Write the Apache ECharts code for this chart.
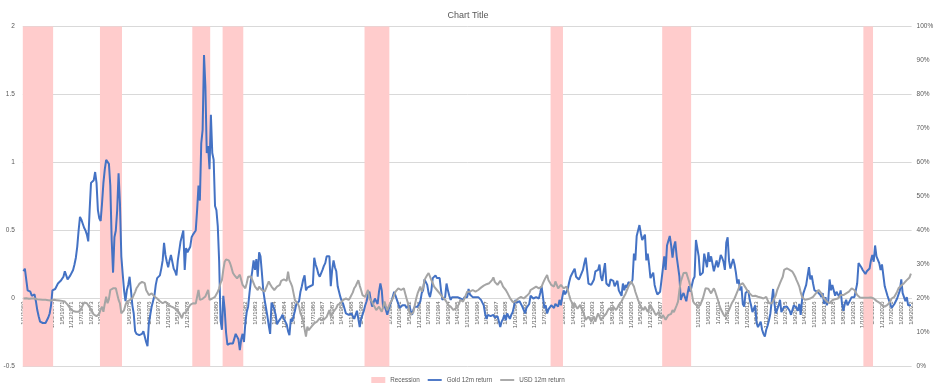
<!DOCTYPE html>
<html>
<head>
<meta charset="utf-8">
<script src="https://cdn.jsdelivr.net/npm/echarts@6/dist/echarts.min.js"></script>
<style>
html,body{margin:0;padding:0;background:#fff;overflow:hidden;}
#chart{width:936px;height:392px;}
</style>
</head>
<body>
<div id="chart"></div>
<script>
// Monthly categories: 1/1/1969 .. 1/9/2022 (d/m/yyyy)
const startYear = 1969;
const monthCount = 645;
const categories = [];
for (let i = 0; i < monthCount; i++) {
  categories.push('1/' + (i % 12 + 1) + '/' + (startYear + Math.floor(i / 12)));
}

// Recession periods (first and last month shaded)
const recessions = [
  ['1/1/1969', '1/10/1970'],
  ['1/9/1973', '1/12/1974'],
  ['1/4/1979', '1/4/1980'],
  ['1/2/1981', '1/4/1982'],
  ['1/9/1989', '1/2/1991'],
  ['1/12/2000', '1/8/2001'],
  ['1/9/2007', '1/5/2009'],
  ['1/11/2019', '1/5/2020']
];

// Gold 12m return (left axis), one row per year
const gold = [
  0.20,0.22,0.23,0.06,0.05,0.05,0.02,0.03,0.03,-0.02,-0.085,-0.13,
  -0.17,-0.18,-0.18,-0.17,-0.18,-0.16,-0.14,-0.11,-0.05,0.06,0.06,0.07,
  0.09,0.11,0.12,0.13,0.14,0.16,0.20,0.17,0.14,0.15,0.17,0.18,
  0.21,0.25,0.30,0.38,0.50,0.60,0.58,0.55,0.52,0.50,0.47,0.42,
  0.65,0.85,0.86,0.87,0.93,0.85,0.65,0.59,0.57,0.70,0.85,0.95,
  1.02,1.02,0.99,0.83,0.43,0.19,0.45,0.50,0.65,0.92,0.70,0.31,
  0.18,0.06,-0.02,0.06,0.10,0.16,0.06,-0.05,-0.11,-0.24,-0.26,-0.27,
  -0.27,-0.26,-0.26,-0.24,-0.28,-0.32,-0.35,-0.18,-0.12,-0.06,-0.02,0.02,
  0.10,0.15,0.16,0.17,0.22,0.28,0.41,0.32,0.27,0.23,0.28,0.32,
  0.27,0.22,0.20,0.17,0.28,0.35,0.42,0.43,0.50,0.21,0.37,0.34,
  0.34,0.38,0.45,0.47,0.48,0.50,0.65,0.83,0.72,1.14,1.24,1.79,
  1.56,1.07,1.12,0.95,1.35,1.07,1.02,0.68,0.65,0.53,0.27,-0.16,
  -0.23,0.02,-0.08,-0.25,-0.34,-0.33,-0.33,-0.32,-0.33,-0.34,-0.26,-0.28,
  -0.30,-0.38,-0.30,-0.26,-0.32,-0.18,-0.10,-0.06,0.04,0.13,0.20,0.28,
  0.21,0.29,0.16,0.34,0.31,0.19,0.06,-0.01,-0.07,-0.13,-0.20,-0.26,
  -0.03,-0.05,-0.08,-0.12,-0.19,-0.17,-0.16,-0.14,-0.12,-0.15,-0.17,-0.19,
  -0.24,-0.27,-0.15,-0.17,-0.18,-0.09,-0.04,-0.03,-0.02,0.05,0.09,0.14,
  0.17,0.06,0.08,0.09,0.09,0.09,0.10,0.30,0.25,0.22,0.18,0.16,
  0.15,0.21,0.24,0.26,0.31,0.31,0.31,0.09,0.21,0.28,0.23,0.20,
  0.09,0.05,0.01,-0.02,-0.04,-0.05,-0.11,-0.11,-0.12,-0.11,-0.11,-0.13,
  -0.15,-0.12,-0.09,-0.15,-0.21,-0.15,-0.12,-0.09,-0.05,-0.02,0.03,0.05,
  -0.01,-0.06,-0.03,0.00,-0.02,-0.04,0.05,0.11,0.06,-0.07,-0.05,-0.04,
  -0.12,-0.08,-0.05,-0.02,-0.01,0.05,0.02,-0.01,-0.04,-0.07,-0.06,-0.05,
  -0.04,-0.05,-0.07,-0.06,-0.05,-0.09,-0.12,-0.08,-0.06,-0.05,-0.06,-0.07,
  -0.02,0.04,0.06,0.14,0.12,0.10,0.04,0.01,0.06,0.15,0.16,0.17,
  0.15,0.15,0.15,0.06,-0.01,0.00,0.01,0.11,0.06,0.02,-0.01,0.01,
  0.00,0.01,0.02,0.01,0.00,0.00,-0.01,-0.01,0.01,0.01,0.01,0.07,
  0.03,0.02,0.01,0.01,0.01,0.01,0.01,0.00,-0.01,-0.03,-0.05,-0.11,
  -0.15,-0.12,-0.12,-0.13,-0.12,-0.12,-0.14,-0.15,-0.13,-0.17,-0.21,-0.17,
  -0.15,-0.12,-0.16,-0.11,-0.13,-0.15,-0.12,-0.10,-0.09,-0.01,-0.03,-0.04,
  -0.02,-0.01,-0.06,-0.05,-0.11,-0.07,-0.06,-0.04,0.02,0.01,0.00,0.01,
  0.01,0.00,0.00,0.04,0.09,0.10,-0.07,-0.05,-0.11,-0.08,-0.07,-0.05,
  -0.06,-0.07,-0.04,-0.05,-0.06,-0.01,-0.05,0.01,0.06,0.03,0.05,0.07,
  0.12,0.16,0.17,0.20,0.22,0.16,0.15,0.14,0.16,0.17,0.21,0.26,
  0.30,0.21,0.11,0.11,0.10,0.12,0.14,0.20,0.21,0.21,0.25,0.16,
  0.13,0.20,0.26,0.11,0.10,0.09,0.14,0.13,0.13,0.09,0.11,0.13,
  0.06,0.04,0.02,0.11,0.06,0.10,0.08,0.12,0.11,0.11,0.14,0.33,
  0.28,0.46,0.46,0.54,0.48,0.43,0.45,0.47,0.28,0.33,0.25,0.15,
  0.17,0.19,0.10,0.06,0.03,0.04,0.05,0.06,0.22,0.31,0.21,0.39,
  0.39,0.46,0.39,0.30,0.38,0.42,0.31,0.31,0.16,-0.01,0.02,0.04,
  0.03,-0.02,0.04,0.09,0.05,0.04,0.14,0.16,0.43,0.44,0.31,0.17,
  0.17,0.19,0.33,0.28,0.23,0.34,0.27,0.31,0.30,0.20,0.24,0.28,
  0.23,0.27,0.32,0.30,0.27,0.21,0.41,0.45,0.28,0.22,0.23,0.29,
  0.25,0.19,0.11,0.14,0.06,0.09,-0.04,-0.06,0.04,0.05,0.06,-0.01,
  -0.05,-0.10,-0.11,-0.05,-0.18,-0.21,-0.19,-0.17,-0.23,-0.26,-0.28,-0.23,
  -0.20,-0.16,-0.11,-0.12,0.07,-0.04,-0.11,-0.08,-0.05,-0.01,-0.10,-0.08,
  -0.06,-0.05,-0.06,-0.07,-0.09,-0.12,-0.13,-0.05,-0.05,-0.07,-0.09,-0.04,
  -0.12,-0.01,0.04,0.07,0.10,0.11,0.23,0.14,0.17,0.11,0.06,0.05,
  0.05,0.06,0.03,0.01,0.04,-0.04,0.01,-0.05,-0.02,0.14,0.06,0.10,
  0.10,0.02,0.05,0.03,0.01,0.06,-0.04,-0.09,-0.04,-0.01,-0.05,-0.03,
  -0.01,0.01,0.01,0.01,0.06,0.11,0.26,0.27,0.23,0.21,0.21,0.18,
  0.20,0.21,0.22,0.28,0.32,0.27,0.39,0.31,0.30,0.26,0.21,0.25,
  0.17,0.09,0.08,0.02,-0.01,-0.04,-0.07,-0.06,-0.04,-0.02,0.00,0.01,
  0.06,0.14,0.04,0.01,-0.02,0.01,-0.05,-0.05,-0.05
];

// USD 12m return (right axis, %), one row per year
const usd = [
  20.0,20.0,20.1,20.0,19.9,20.0,20.0,19.9,20.0,19.9,19.8,19.75,
  19.7,19.7,19.6,19.6,19.6,19.5,19.5,19.4,19.4,19.5,19.6,19.6,
  19.5,19.5,19.4,19.4,19.3,19.2,19.1,18.8,18.2,17.6,17.0,16.6,
  16.3,16.1,16.1,16.0,16.1,16.4,17.1,18.0,18.8,19.1,18.6,18.1,
  17.4,16.6,16.0,15.3,15.0,14.8,14.7,15.5,16.8,17.6,16.1,18.5,
  20.5,18.6,19.8,22.5,22.8,23.0,23.2,23.0,22.5,19.6,18.6,15.6,
  15.9,16.6,18.1,19.1,19.3,19.5,19.6,20.1,21.0,21.9,23.0,23.6,
  24.3,24.6,24.9,25.2,24.5,22.5,21.8,21.0,21.3,21.5,21.0,20.6,
  20.3,20.0,19.6,19.2,18.8,18.6,18.9,19.1,18.7,18.2,17.9,17.7,
  17.5,17.3,17.1,16.7,16.4,15.8,15.0,14.2,15.6,15.8,16.0,16.8,
  17.5,18.1,18.3,18.6,18.6,18.5,18.6,22.5,19.6,19.7,19.9,20.1,
  20.6,21.0,22.5,19.6,19.8,20.0,20.2,20.5,21.0,22.0,23.0,24.5,
  25.4,28.4,30.8,31.5,31.8,31.2,30.3,29.0,27.5,26.9,26.4,25.9,
  26.2,27.0,27.4,24.0,23.5,23.0,24.5,26.4,26.4,26.5,26.6,24.5,
  23.5,23.0,22.5,23.5,23.5,22.5,22.0,22.0,23.0,24.0,25.0,24.2,
  23.5,23.0,22.5,23.0,23.5,23.8,24.0,25.2,25.4,25.6,25.3,25.2,
  27.9,25.4,24.5,23.5,21.5,19.5,19.6,18.5,17.6,15.6,14.7,13.2,
  11.0,8.8,11.7,10.7,11.2,11.7,12.2,12.7,13.0,13.2,13.6,14.2,
  13.6,13.2,13.8,14.2,14.6,15.1,16.6,14.7,15.5,16.1,16.5,17.2,
  18.1,18.4,18.6,19.1,19.6,19.9,20.0,19.8,19.6,20.2,20.5,21.8,
  23.0,23.6,24.0,25.4,23.8,22.5,21.0,20.6,20.5,21.5,22.5,20.0,
  19.6,19.0,18.1,17.4,16.6,17.0,17.6,16.8,16.1,17.5,19.1,17.8,
  16.6,17.6,18.6,19.3,20.0,21.0,22.0,22.5,23.0,22.7,22.5,22.8,
  23.0,21.5,20.0,18.6,16.1,15.2,14.7,16.0,18.1,20.0,21.5,22.5,
  23.5,22.0,23.2,25.4,26.2,26.9,27.5,27.9,25.4,24.5,23.5,23.0,
  22.5,22.0,21.5,21.0,20.5,20.0,19.6,19.0,18.1,17.8,17.6,17.3,
  16.6,16.8,17.2,17.6,18.3,19.6,19.3,19.1,20.0,21.0,22.0,22.5,
  22.0,22.5,22.5,22.3,22.0,22.2,22.5,22.8,23.2,23.5,23.8,24.0,
  24.2,24.5,24.5,25.0,25.4,26.2,24.9,24.5,24.0,24.6,25.2,24.5,
  23.5,23.0,22.5,21.8,21.0,20.2,19.6,19.0,18.6,19.1,19.5,20.0,
  20.2,20.5,20.3,20.0,20.4,20.7,21.0,21.5,22.5,22.8,23.0,23.3,
  23.5,23.3,23.0,23.3,23.5,24.5,25.4,26.2,26.9,25.4,24.7,24.0,
  23.8,23.5,25.0,24.0,23.0,23.5,24.0,23.5,23.0,22.5,23.5,22.5,
  21.0,19.6,18.8,17.6,18.6,17.6,17.0,16.6,18.1,17.0,16.1,15.0,
  13.7,14.2,14.7,14.0,13.2,14.0,14.7,13.2,14.5,15.6,14.7,13.7,
  14.2,14.7,15.2,15.6,16.5,17.1,16.8,16.6,17.6,17.2,16.6,17.3,
  18.1,18.6,19.1,20.0,20.5,21.5,22.5,23.5,24.0,25.0,24.5,23.5,
  22.0,20.8,19.6,18.6,17.6,17.1,16.6,17.6,17.2,16.1,17.0,18.1,
  17.3,16.6,15.8,15.1,15.6,16.1,14.8,14.2,15.1,14.5,13.7,14.5,
  15.1,14.7,15.5,16.6,16.0,15.6,18.0,19.1,22.5,25.0,26.2,27.5,
  27.9,27.6,27.4,25.0,23.5,21.5,19.1,18.5,18.1,17.8,17.6,18.0,
  18.1,20.0,21.5,23.0,23.5,22.9,22.5,21.5,22.3,23.0,22.0,21.5,
  19.5,18.1,16.9,16.1,15.3,14.7,15.1,15.8,16.6,17.6,18.6,19.3,
  20.0,21.0,21.5,23.0,24.0,24.5,24.5,24.0,23.2,22.5,22.0,21.5,
  21.0,20.7,20.5,20.8,21.0,20.5,20.0,20.3,20.5,20.0,20.2,20.5,
  19.5,18.6,18.6,18.6,19.2,19.6,21.0,22.5,23.5,24.5,25.5,26.4,
  28.4,28.7,28.9,28.6,28.4,28.2,27.9,27.2,26.4,25.4,24.5,23.5,
  21.8,20.5,20.0,19.6,19.6,19.8,20.0,20.0,20.0,20.5,21.0,21.5,
  22.0,22.5,22.3,21.5,21.0,20.0,19.5,19.1,18.8,18.6,19.1,19.5,
  20.0,19.8,19.6,20.0,20.5,21.0,21.5,21.0,21.3,21.5,21.8,22.0,
  22.5,23.0,22.8,22.5,22.0,21.0,20.5,20.3,20.0,20.2,20.5,20.2,
  20.0,20.2,20.5,20.3,20.0,20.0,19.6,19.3,19.1,18.8,18.6,18.1,
  18.0,17.6,17.8,18.1,18.6,19.1,20.0,20.3,20.5,21.0,22.0,23.0,
  23.5,23.8,24.0,24.5,25.0,25.4,25.7,26.2,27.3
];

// Axis ticks
const leftAxis = { min: -0.5, max: 2, interval: 0.5 };
const rightAxis = { min: 0, max: 100, interval: 10 };

// Recession spans as [startIndex, endIndex] on the category axis
const recessionData = recessions.map(([a, b]) => [categories.indexOf(a), categories.indexOf(b)]);

const FONT = '"Liberation Sans", Arial, sans-serif';
const TXT = '#595959';
const PINK = '#ffcccc', BLUE = '#4472c4', GREY = '#a5a5a5';
const W = 936, H = 392;
const G = { left: 22.8, right: 24.4, top: 26.5, bottom: 25.5 };
// pixel distance from grid bottom (value -0.5) up to value 0
const zeroOffset = (0 - leftAxis.min) / (leftAxis.max - leftAxis.min) * (H - G.top - G.bottom);
const LINE_ICON = 'path://M0,0L15,0L15,2L0,2Z';

const chart = echarts.init(document.getElementById('chart'), null, { renderer: 'canvas', width: W, height: H });
chart.setOption({
  animation: false,
  backgroundColor: '#ffffff',
  textStyle: { fontFamily: FONT },
  title: {
    text: 'Chart Title', left: 'center', top: 6,
    textStyle: { fontSize: 9, fontWeight: 'normal', color: TXT, fontFamily: FONT }
  },
  legend: {
    top: 377, left: 'center', itemWidth: 14, itemHeight: 6, itemGap: 8, padding: 0,
    symbolKeepAspect: true,
    textStyle: { fontSize: 6.3, color: TXT, fontFamily: FONT },
    data: [
      { name: 'Recession', icon: 'rect', itemStyle: { color: PINK } },
      { name: 'Gold 12m return', icon: LINE_ICON, itemStyle: { color: BLUE } },
      { name: 'USD 12m return', icon: LINE_ICON, itemStyle: { color: GREY } }
    ]
  },
  grid: { left: G.left, right: G.right, top: G.top, bottom: G.bottom, containLabel: false, outerBoundsMode: 'none' },
  xAxis: {
    type: 'category', data: categories, boundaryGap: true, position: 'bottom',
    offset: -zeroOffset,
    axisLine: { show: true, onZero: false, lineStyle: { color: '#d9d9d9', width: 1 } },
    axisTick: { show: false },
    axisLabel: { interval: 6, rotate: 90, fontSize: 6, color: TXT, margin: 3, fontFamily: FONT },
    splitLine: { show: false }
  },
  yAxis: [
    {
      type: 'value', min: leftAxis.min, max: leftAxis.max, interval: leftAxis.interval,
      axisLine: { show: false }, axisTick: { show: false },
      axisLabel: { fontSize: 6.5, color: TXT, margin: 8, fontFamily: FONT },
      splitLine: { show: true, lineStyle: { color: '#d9d9d9', width: 1 } }
    },
    {
      type: 'value', min: rightAxis.min, max: rightAxis.max, interval: rightAxis.interval,
      axisLine: { show: false }, axisTick: { show: false },
      axisLabel: { fontSize: 6.5, color: TXT, margin: 5, formatter: '{value}%', fontFamily: FONT },
      splitLine: { show: false }
    }
  ],
  series: [
    {
      name: 'Recession', type: 'custom', yAxisIndex: 1, data: recessionData,
      encode: { x: [0, 1] },
      itemStyle: { color: PINK },
      renderItem: function (params, api) {
        const bw = api.size([1, 0])[0];
        const p0 = api.coord([api.value(0), rightAxis.max]);
        const p1 = api.coord([api.value(1), rightAxis.min]);
        return {
          type: 'rect',
          shape: { x: p0[0] - bw / 2, y: p0[1], width: p1[0] - p0[0] + bw, height: p1[1] - p0[1] },
          style: { fill: PINK }
        };
      },
      z: 1
    },
    {
      name: 'Gold 12m return', type: 'line', yAxisIndex: 0, data: gold,
      symbol: 'none', lineStyle: { color: BLUE, width: 2 }, itemStyle: { color: BLUE }, z: 3
    },
    {
      name: 'USD 12m return', type: 'line', yAxisIndex: 1, data: usd,
      symbol: 'none', lineStyle: { color: GREY, width: 2 }, itemStyle: { color: GREY }, z: 4
    }
  ]
});
</script>
</body>
</html>
